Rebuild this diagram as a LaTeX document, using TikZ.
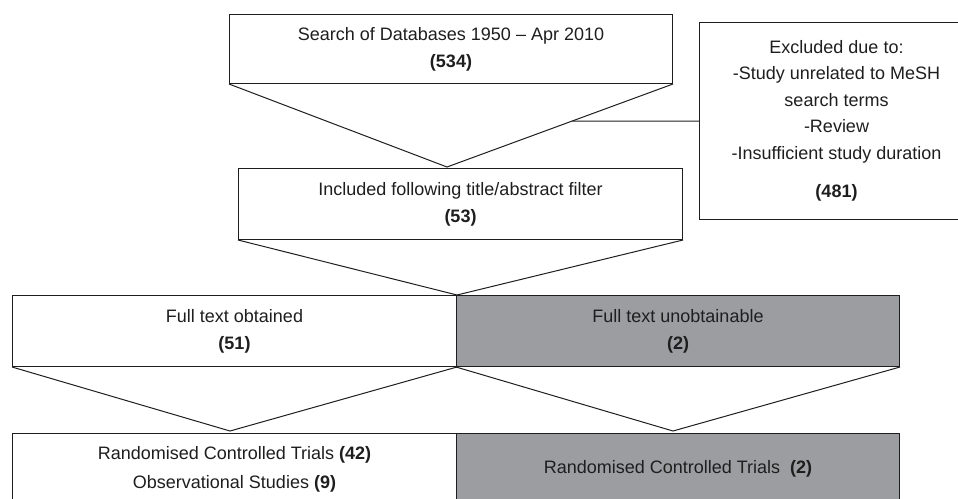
\documentclass[tikz,border=0pt]{standalone}
\usepackage{fontspec}
\setmainfont{Liberation Sans}
\definecolor{boxgray}{RGB}{156,157,161}
\definecolor{linec}{RGB}{30,30,30}
\begin{document}
\begin{tikzpicture}[x=1pt,y=-1pt,
  box/.style={draw=linec, line width=1pt, rectangle, inner sep=0pt, align=center,
    text=linec, font=\fontsize{18}{27}\selectfont, anchor=north west},
  graybox/.style={box, fill=boxgray},
  vline/.style={draw=linec, line width=1pt}]
\useasboundingbox (0,0) rectangle (958,498);
\clip (0,0) rectangle (958,498);
% boxes
\node[box, minimum width=443pt, minimum height=69pt] (b1) at (229,14)
  {Search of Databases 1950 -- Apr 2010\\\textbf{(534)}};
\node[box, minimum width=444pt, minimum height=71pt] (b2) at (238,168)
  {Included following title/abstract filter\\\textbf{(53)}};
\node[box, minimum width=274pt, minimum height=197pt, font=\fontsize{18}{26.5}\selectfont] (ex) at (699,22)
  {Excluded due to:\\-Study unrelated to MeSH\\search terms\\-Review\\-Insufficient study duration\\[12pt]\textbf{(481)}};
\node[box, minimum width=444pt, minimum height=71pt] (r3l) at (12,295)
  {Full text obtained\\\textbf{(51)}};
\node[graybox, minimum width=443pt, minimum height=71pt] (r3r) at (456,295)
  {Full text unobtainable\\\textbf{(2)}};
\node[box, minimum width=444pt, minimum height=71pt, font=\fontsize{18}{29}\selectfont] (r4l) at (12,433)
  {Randomised Controlled Trials \textbf{(42)}\\Observational Studies \textbf{(9)}};
\node[graybox, minimum width=443pt, minimum height=71pt] (r4r) at (456,433)
  {Randomised Controlled Trials\ \ \textbf{(2)}};
% funnel apexes
\coordinate (v1) at (447,167);
\coordinate (v3) at (230,431);
\coordinate (v4) at (673,431);
% funnels
\draw[vline] (b1.south west) -- (v1) -- (b1.south east);
\draw[vline] (b2.south west) -- (r3l.north east) -- (b2.south east);
\draw[vline] (r3l.south west) -- (v3) -- (r3l.south east);
\draw[vline] (r3r.south west) -- (v4) -- (r3r.south east);
% connector to excluded box
\coordinate (h) at (ex.west -| b1.west);
\draw[vline] (ex.west) -- (intersection of ex.west--h and b1.south east--v1);
\end{tikzpicture}
\end{document}
